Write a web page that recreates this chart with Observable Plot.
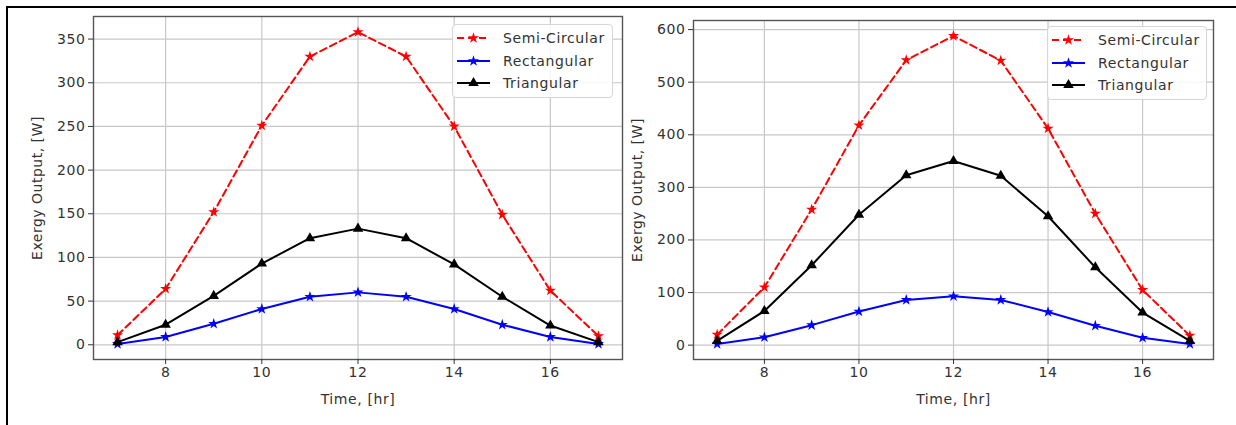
<!DOCTYPE html>
<html>
<head>
<meta charset="utf-8">
<script src="https://cdn.jsdelivr.net/npm/d3@7"></script>
<script src="https://cdn.jsdelivr.net/npm/@observablehq/plot@0.6"></script>
<style>
  body { margin: 0; background: #fff; }
  #wrap { position: relative; width: 1236px; height: 425px; overflow: hidden; font-family: "DejaVu Sans", sans-serif; background: #fff; }
  .panel { position: absolute; left: 0; top: 0; }
  .panel svg text { letter-spacing: 0.6px; }
  .panel svg [aria-label="y-axis label"] text { letter-spacing: 0.5px; font-size: 14px; }
  .bt { position: absolute; left: 6px; top: 6px; width: 1230px; height: 2px; background: #000; z-index: 5; }
  .bl { position: absolute; left: 6px; top: 6px; width: 2px; height: 419px; background: #000; z-index: 5; }
  .legend { position: absolute; box-sizing: border-box; border: 1px solid #d6d6d6; border-radius: 4px; background: rgba(255,255,255,0.85); z-index: 4; }
  .legend .row { position: absolute; left: 4px; height: 16px; display: flex; align-items: center; }
  .legend .row span { margin-left: 13px; font-size: 14px; letter-spacing: 0.6px; color: #333; }
</style>
</head>
<body>
<div id="wrap">
  <div class="bt"></div>
  <div class="bl"></div>
</div>
<script>
// ---- data ----
const hours = [7, 8, 9, 10, 11, 12, 13, 14, 15, 16, 17];
const seriesNames = ["Semi-Circular", "Rectangular", "Triangular"];

const leftSemi = [11, 64, 152, 251, 330, 358, 330, 250, 149, 62, 10];
const leftRect = [1, 9, 24, 41, 55, 60, 55, 41, 23, 9, 1];
const leftTri  = [3, 23, 56, 93, 122, 133, 122, 92, 55, 22, 3];

const rightSemi = [20, 110, 258, 418, 542, 588, 541, 412, 250, 105, 18];
const rightRect = [2, 15, 38, 64, 86, 93, 86, 63, 37, 14, 2];
const rightTri  = [8, 65, 152, 248, 323, 350, 322, 245, 148, 62, 8];

const xTicks = [8, 10, 12, 14, 16];
const leftYTicks = [0, 50, 100, 150, 200, 250, 300, 350];
const rightYTicks = [0, 100, 200, 300, 400, 500, 600];

const xLabel = "Time, [hr]";
const yLabel = "Exergy Output, [W]";

// ---- styles ----
const seriesStyle = [
  {color: "#ff0000", dash: "7,4", symbol: "star", r: 3.5},
  {color: "#0000ff", dash: null, symbol: "star", r: 3.5},
  {color: "#000000", dash: null, symbol: "triangle", r: 3.9}
];

function pad5(ext) { const p = (ext[1] - ext[0]) * 0.05; return [ext[0] - p, ext[1] + p]; }

function makePanel(cfg) {
  const rows = [];
  seriesNames.forEach((name, i) => cfg.values[i].forEach((v, j) => rows.push({series: name, hour: hours[j], value: v})));
  const marks = [
    Plot.gridX(xTicks, {stroke: "#c8c8c8", strokeOpacity: 1, strokeWidth: 1.2}),
    Plot.gridY(cfg.yTicks, {stroke: "#c8c8c8", strokeOpacity: 1, strokeWidth: 1.2}),
    Plot.frame({stroke: "#555", strokeWidth: 1.4})
  ];
  seriesNames.forEach((name, i) => {
    const d = rows.filter(r => r.series === name);
    const s = seriesStyle[i];
    const lineOpts = {x: "hour", y: "value", stroke: s.color, strokeWidth: 2};
    if (s.dash) lineOpts.strokeDasharray = s.dash;
    marks.push(Plot.line(d, lineOpts));
    marks.push(Plot.dot(d, {x: "hour", y: "value", symbol: s.symbol, r: s.r, fill: s.color, stroke: "none"}));
  });
  marks.push(Plot.axisX(xTicks, {tickSize: 5, tickPadding: 3, fontSize: 14, color: "#333", label: xLabel, labelAnchor: "center", labelArrow: "none", labelOffset: 44}));
  marks.push(Plot.axisY(cfg.yTicks, {tickSize: 5, tickPadding: 3, fontSize: 14, color: "#333", label: yLabel, labelAnchor: "center", labelArrow: "none", labelOffset: 61}));
  const svg = Plot.plot({
    width: 1236, height: 425,
    marginLeft: cfg.ml, marginRight: cfg.mr, marginTop: cfg.mt, marginBottom: 66,
    x: {domain: pad5(d3.extent(hours))},
    y: {domain: pad5(d3.extent(cfg.values.flat()))},
    style: {fontFamily: "DejaVu Sans", background: "transparent", overflow: "visible", maxWidth: "none"},
    marks
  });
  const div = document.createElement("div");
  div.className = "panel";
  div.appendChild(svg);
  document.getElementById("wrap").appendChild(div);
}

function makeLegend(left, top, width, height) {
  const lg = document.createElement("div");
  lg.className = "legend";
  Object.assign(lg.style, {left: left + "px", top: top + "px", width: width + "px", height: height + "px"});
  const rowY = [5, 28, 50];
  seriesNames.forEach((name, i) => {
    const s = seriesStyle[i];
    const row = document.createElement("div");
    row.className = "row";
    row.style.top = rowY[i] + "px";
    const sym = s.symbol === "star" ? d3.symbolStar : d3.symbolTriangle;
    const path = d3.symbol(sym, Math.PI * s.r * s.r)();
    row.innerHTML = `<svg width="33" height="16"><line x1="0" x2="33" y1="8" y2="8" stroke="${s.color}" stroke-width="2" ${s.dash ? `stroke-dasharray="${s.dash}"` : ""}/><path d="${path}" transform="translate(16.5,8)" fill="${s.color}"/></svg><span>${name}</span>`;
    lg.appendChild(row);
  });
  document.getElementById("wrap").appendChild(lg);
}

makePanel({values: [leftSemi, leftRect, leftTri], yTicks: leftYTicks, ml: 93, mr: 1236 - 622, mt: 16});
makePanel({values: [rightSemi, rightRect, rightTri], yTicks: rightYTicks, ml: 693, mr: 1236 - 1213, mt: 20});
makeLegend(452, 24, 161, 74);
makeLegend(1047, 26, 160, 74);
</script>
</body>
</html>
